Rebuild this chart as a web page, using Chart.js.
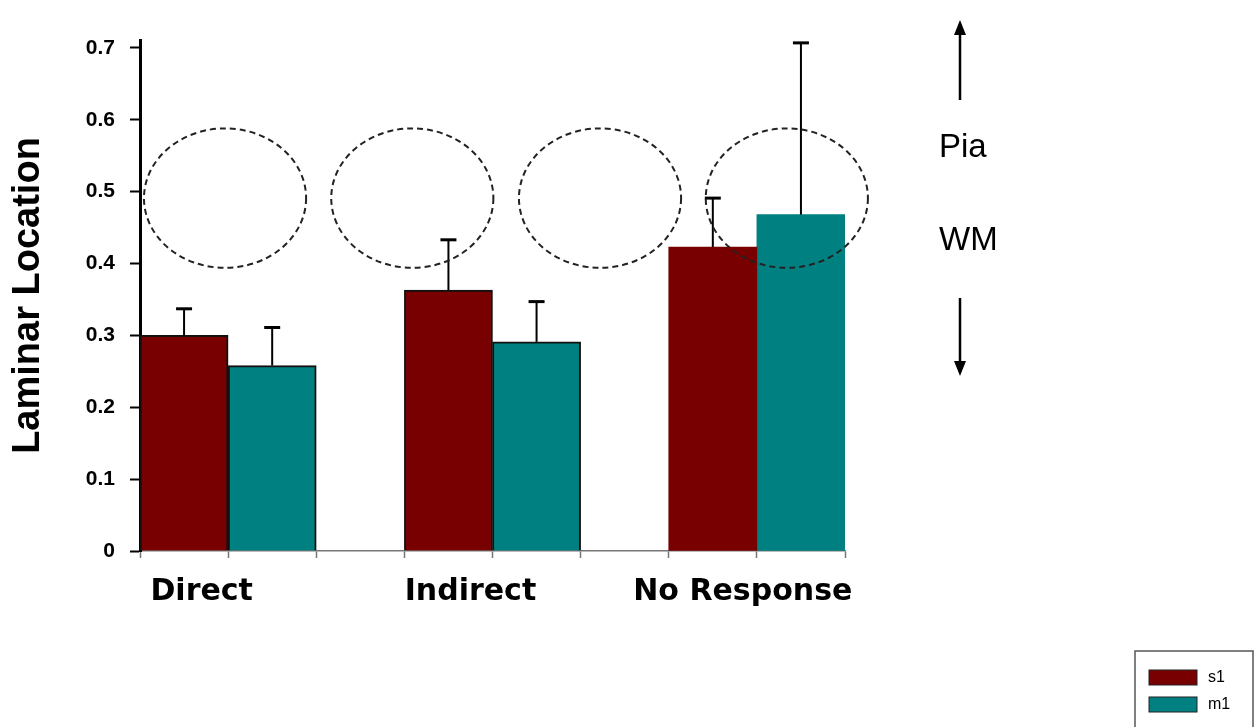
<!DOCTYPE html>
<html>
<head>
<meta charset="utf-8">
<script src="https://cdn.jsdelivr.net/npm/chart.js@4/dist/chart.umd.min.js"></script>
<style>
  html, body { margin: 0; padding: 0; background: #fff; }
  #wrap { width: 1258px; height: 727px; }
</style>
</head>
<body>
<div id="wrap"><canvas id="laminarChart" width="1258" height="727"></canvas></div>
<script>
// data
var categories = ['Direct', 'Indirect', 'No Response'];
var seriesNames = ['s1', 'm1'];
var s1Values = [0.300, 0.363, 0.423];
var m1Values = [0.258, 0.291, 0.468];
var s1Errors = [0.037, 0.070, 0.068];
var m1Errors = [0.053, 0.056, 0.239];
// slot positions on the x axis (8 equal slots, one per bar / gap)
var s1Slots = [0.5, 3.5, 6.5];
var m1Slots = [1.5, 4.5, 7.5];
var labelSlots = [0.70, 3.75, 6.84];
var yTickValues = [0, 0.1, 0.2, 0.3, 0.4, 0.5, 0.6, 0.7];
// dashed ellipses: centre x (slot units), centre y, radius x, radius y
var ellipseX = [0.965, 3.09, 5.22, 7.34];
var ellipseY = 0.491;
var ellipseRx = 0.92;
var ellipseRy = 0.097;

var s1Color = '#780000';
var m1Color = '#008080';

var decorations = {
  id: 'decorations',
  afterDatasetsDraw: function(chart) {
    var ctx = chart.ctx;
    var xs = chart.scales.x, ys = chart.scales.y;
    var errs = [s1Errors, m1Errors];
    var vals = [s1Values, m1Values];

    // error bars (upper only)
    ctx.save();
    ctx.strokeStyle = '#000';
    chart.data.datasets.forEach(function(ds, di) {
      var meta = chart.getDatasetMeta(di);
      meta.data.forEach(function(bar, i) {
        var top = ys.getPixelForValue(vals[di][i] + errs[di][i]);
        ctx.lineWidth = 2;
        ctx.beginPath();
        ctx.moveTo(bar.x, bar.y);
        ctx.lineTo(bar.x, top);
        ctx.stroke();
        ctx.lineWidth = 3;
        ctx.beginPath();
        ctx.moveTo(bar.x - 8, top);
        ctx.lineTo(bar.x + 8, top);
        ctx.stroke();
      });
    });
    ctx.restore();

    // dashed ellipses
    ctx.save();
    ctx.strokeStyle = '#222';
    ctx.lineWidth = 2;
    ctx.setLineDash([6, 4]);
    var ry = Math.abs(ys.getPixelForValue(ellipseY + ellipseRy) - ys.getPixelForValue(ellipseY));
    ellipseX.forEach(function(cx) {
      var px = xs.getPixelForValue(cx);
      var rx = xs.getPixelForValue(cx + ellipseRx) - px;
      ctx.beginPath();
      ctx.ellipse(px, ys.getPixelForValue(ellipseY), rx, ry, 0, 0, Math.PI * 2);
      ctx.stroke();
    });
    ctx.restore();

    // Pia / WM arrows and text
    ctx.save();
    ctx.strokeStyle = '#000';
    ctx.fillStyle = '#000';
    ctx.lineWidth = 2.5;
    ctx.beginPath(); ctx.moveTo(960, 100); ctx.lineTo(960, 32); ctx.stroke();
    ctx.beginPath(); ctx.moveTo(960, 20); ctx.lineTo(954, 35); ctx.lineTo(966, 35); ctx.closePath(); ctx.fill();
    ctx.beginPath(); ctx.moveTo(960, 298); ctx.lineTo(960, 364); ctx.stroke();
    ctx.beginPath(); ctx.moveTo(960, 376); ctx.lineTo(954, 361); ctx.lineTo(966, 361); ctx.closePath(); ctx.fill();
    ctx.font = '33px "Liberation Sans", Arial, sans-serif';
    ctx.textAlign = 'left';
    ctx.textBaseline = 'alphabetic';
    ctx.fillText('Pia', 939, 157);
    ctx.fillText('WM', 939, 250);
    ctx.restore();

    // legend box
    ctx.save();
    ctx.strokeStyle = '#555';
    ctx.lineWidth = 1.5;
    ctx.strokeRect(1135, 651, 118, 90);
    var colors = [s1Color, m1Color];
    ctx.font = '16px "Liberation Sans", Arial, sans-serif';
    ctx.textBaseline = 'middle';
    seriesNames.forEach(function(name, i) {
      var y = 670 + i * 27;
      ctx.fillStyle = colors[i];
      ctx.fillRect(1149, y, 48, 15);
      ctx.strokeStyle = '#222';
      ctx.lineWidth = 1;
      ctx.strokeRect(1149, y, 48, 15);
      ctx.fillStyle = '#000';
      ctx.fillText(name, 1208, y + 8);
    });
    ctx.restore();
  }
};

var ctx = document.getElementById('laminarChart').getContext('2d');

var data = {
  datasets: [
    {
      label: seriesNames[0],
      backgroundColor: s1Color,
      borderColor: '#111',
      borderWidth: [2, 2, 0],
      data: s1Slots.map(function(x, i) { return { x: x, y: s1Values[i] }; })
    },
    {
      label: seriesNames[1],
      backgroundColor: m1Color,
      borderColor: '#111',
      borderWidth: [2, 2, 0],
      data: m1Slots.map(function(x, i) { return { x: x, y: m1Values[i] }; })
    }
  ]
};

var options = {
  responsive: false,
  animation: false,
  layout: { padding: { left: 0, top: 40, right: 413, bottom: 106 } },
  datasets: { bar: { grouped: false, barPercentage: 1, categoryPercentage: 1 } },
  plugins: { legend: { display: false }, tooltip: { enabled: false } },
  scales: {
    x: {
      type: 'linear',
      position: 'bottom',
      offset: false,
      min: 0,
      max: 8,
      ticks: { stepSize: 1, callback: function() { return ''; }, font: { size: 1 }, padding: 0 },
      grid: { offset: false, drawOnChartArea: false, tickLength: 7, tickColor: '#777', tickWidth: 1.5 },
      border: { color: '#777', width: 1.5 },
      afterFit: function(s) { s.height = 10; }
    },
    x2: {
      type: 'linear',
      position: 'bottom',
      offset: false,
      min: 0,
      max: 8,
      grid: { display: false, offset: false },
      border: { display: false },
      afterBuildTicks: function(axis) {
        axis.ticks = labelSlots.map(function(v) { return { value: v }; });
      },
      ticks: {
        autoSkip: false,
        maxRotation: 0,
        padding: 5,
        color: '#000',
        font: { family: '"DejaVu Sans", sans-serif', size: 30, weight: 'bold' },
        callback: function(v, i) { return categories[i]; }
      },
      afterFit: function(s) { s.height = 60; }
    },
    y: {
      min: 0,
      max: 0.711,
      afterBuildTicks: function(axis) {
        axis.ticks = yTickValues.map(function(v) { return { value: v }; });
      },
      ticks: {
        color: '#000',
        padding: 15,
        font: { family: '"Liberation Sans", Arial, sans-serif', size: 21, weight: 'bold' },
        callback: function(v) { return String(+v.toFixed(1)); }
      },
      grid: { drawOnChartArea: false, tickLength: 10, tickColor: '#000', tickWidth: 2 },
      border: { color: '#000', width: 3 },
      title: {
        display: true,
        text: 'Laminar Location',
        color: '#000',
        padding: { top: 6, bottom: 0 },
        font: { family: '"Liberation Sans", Arial, sans-serif', size: 38, weight: 'bold' }
      },
      afterFit: function(s) { s.width = 140; }
    }
  }
};

var laminarChart = new Chart(ctx, {
  type: 'bar',
  data: data,
  options: options,
  plugins: [decorations]
});
</script>
</body>
</html>
